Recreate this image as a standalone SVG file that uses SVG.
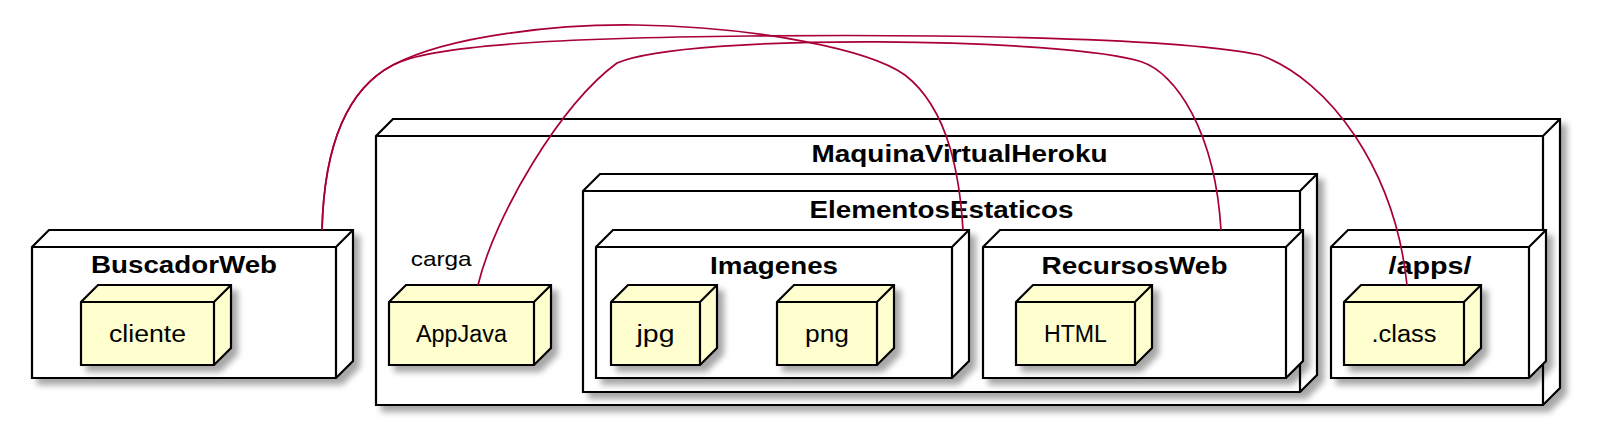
<svg xmlns="http://www.w3.org/2000/svg" width="1598" height="442" viewBox="0 0 1598 442">
<defs>
<filter id="sh" x="-10%" y="-10%" width="130%" height="130%">
<feGaussianBlur in="SourceAlpha" stdDeviation="3"/>
<feOffset dx="6" dy="6" result="b"/>
<feComponentTransfer><feFuncA type="linear" slope="0.35"/></feComponentTransfer>
<feMerge><feMergeNode/><feMergeNode in="SourceGraphic"/></feMerge>
</filter>
<style>
.box{fill:#FFFFFF;stroke:#000000;stroke-width:2.2;stroke-linejoin:miter}
.leaf{fill:#FEFECE;stroke:#000000;stroke-width:2.2;stroke-linejoin:miter}
.edge{fill:none;stroke:#000000;stroke-width:2.2}
.title{font-family:"Liberation Sans",Arial,sans-serif;font-weight:bold;font-size:23px;fill:#000000;text-anchor:middle}
.lbl{font-family:"Liberation Sans",Arial,sans-serif;font-size:23px;fill:#000000;text-anchor:middle}
.elbl{font-family:"Liberation Sans",Arial,sans-serif;font-size:21px;fill:#000000}
.conn{fill:none;stroke:#A80036;stroke-width:1.7}
</style>
</defs>
<rect width="1598" height="442" fill="#FFFFFF"/>

<g id="BuscadorWeb">
<path class="box" filter="url(#sh)" d="M32,247 L49,230 L353,230 L353,361 L336,378 L32,378 Z"/>
<path class="edge" d="M32,247 L336,247 L353,230 M336,247 L336,378"/>
<text class="title" x="184" y="273" textLength="186" lengthAdjust="spacingAndGlyphs">BuscadorWeb</text>
</g>
<g id="cliente">
<path class="leaf" filter="url(#sh)" d="M81,302 L98,285 L231,285 L231,348 L214,365 L81,365 Z"/>
<path class="edge" d="M81,302 L214,302 L231,285 M214,302 L214,365"/>
<text class="lbl" x="147.5" y="341.5" textLength="77" lengthAdjust="spacingAndGlyphs">cliente</text>
</g>

<g id="MaquinaVirtualHeroku">
<path class="box" filter="url(#sh)" d="M376,136 L393,119 L1560,119 L1560,388 L1543,405 L376,405 Z"/>
<path class="edge" d="M376,136 L1543,136 L1560,119 M1543,136 L1543,405"/>
<text class="title" x="959.5" y="162" textLength="296" lengthAdjust="spacingAndGlyphs">MaquinaVirtualHeroku</text>
</g>
<g id="AppJava">
<path class="leaf" filter="url(#sh)" d="M389,302 L406,285 L551,285 L551,348 L534,365 L389,365 Z"/>
<path class="edge" d="M389,302 L534,302 L551,285 M534,302 L534,365"/>
<text class="lbl" x="461.5" y="341.5" textLength="91" lengthAdjust="spacingAndGlyphs">AppJava</text>
</g>
<g id="ElementosEstaticos">
<path class="box" filter="url(#sh)" d="M583,191 L600,174 L1317,174 L1317,375 L1300,392 L583,392 Z"/>
<path class="edge" d="M583,191 L1300,191 L1317,174 M1300,191 L1300,392"/>
<text class="title" x="941.5" y="218" textLength="264" lengthAdjust="spacingAndGlyphs">ElementosEstaticos</text>
</g>
<g id="Imagenes">
<path class="box" filter="url(#sh)" d="M596,247 L613,230 L969,230 L969,361 L952,378 L596,378 Z"/>
<path class="edge" d="M596,247 L952,247 L969,230 M952,247 L952,378"/>
<text class="title" x="774" y="274" textLength="128" lengthAdjust="spacingAndGlyphs">Imagenes</text>
</g>
<g id="jpg">
<path class="leaf" filter="url(#sh)" d="M611,302 L628,285 L717,285 L717,348 L700,365 L611,365 Z"/>
<path class="edge" d="M611,302 L700,302 L717,285 M700,302 L700,365"/>
<text class="lbl" x="655.5" y="341.5" textLength="38" lengthAdjust="spacingAndGlyphs">jpg</text>
</g>
<g id="png">
<path class="leaf" filter="url(#sh)" d="M777,302 L794,285 L894,285 L894,348 L877,365 L777,365 Z"/>
<path class="edge" d="M777,302 L877,302 L894,285 M877,302 L877,365"/>
<text class="lbl" x="827" y="341.5" textLength="44" lengthAdjust="spacingAndGlyphs">png</text>
</g>
<g id="RecursosWeb">
<path class="box" filter="url(#sh)" d="M983,247 L1000,230 L1303,230 L1303,361 L1286,378 L983,378 Z"/>
<path class="edge" d="M983,247 L1286,247 L1303,230 M1286,247 L1286,378"/>
<text class="title" x="1134.5" y="274" textLength="186" lengthAdjust="spacingAndGlyphs">RecursosWeb</text>
</g>
<g id="HTML">
<path class="leaf" filter="url(#sh)" d="M1016,302 L1033,285 L1152,285 L1152,348 L1135,365 L1016,365 Z"/>
<path class="edge" d="M1016,302 L1135,302 L1152,285 M1135,302 L1135,365"/>
<text class="lbl" x="1075.5" y="341.5" textLength="63" lengthAdjust="spacingAndGlyphs">HTML</text>
</g>
<g id="apps">
<path class="box" filter="url(#sh)" d="M1331,247 L1348,230 L1546,230 L1546,361 L1529,378 L1331,378 Z"/>
<path class="edge" d="M1331,247 L1529,247 L1546,230 M1529,247 L1529,378"/>
<text class="title" x="1430" y="274" textLength="83" lengthAdjust="spacingAndGlyphs">/apps/</text>
</g>
<g id="class">
<path class="leaf" filter="url(#sh)" d="M1344,302 L1361,285 L1481,285 L1481,348 L1464,365 L1344,365 Z"/>
<path class="edge" d="M1344,302 L1464,302 L1481,285 M1464,302 L1464,365"/>
<text class="lbl" x="1404" y="341.5" textLength="65" lengthAdjust="spacingAndGlyphs">.class</text>
</g>

<g id="connectors">
<path class="conn" d="M322,230 C324,150 345,90 393,65 C450,35 560,24 636,25 C760,27 870,50 905,75 C950,110 960,180 963,230"/>
<path class="conn" d="M322,230 C324,150 345,90 393,65 C430,45 560,38 750,36 C950,34 1180,38 1260,55 C1330,80 1395,170 1407,285"/>
<path class="conn" d="M478,285 C495,215 560,105 617,63 C690,32 1070,38 1142,62 C1175,73 1215,130 1221,230"/>
<text class="elbl" x="410.7" y="265.7" textLength="61" lengthAdjust="spacingAndGlyphs">carga</text>
</g>
</svg>
